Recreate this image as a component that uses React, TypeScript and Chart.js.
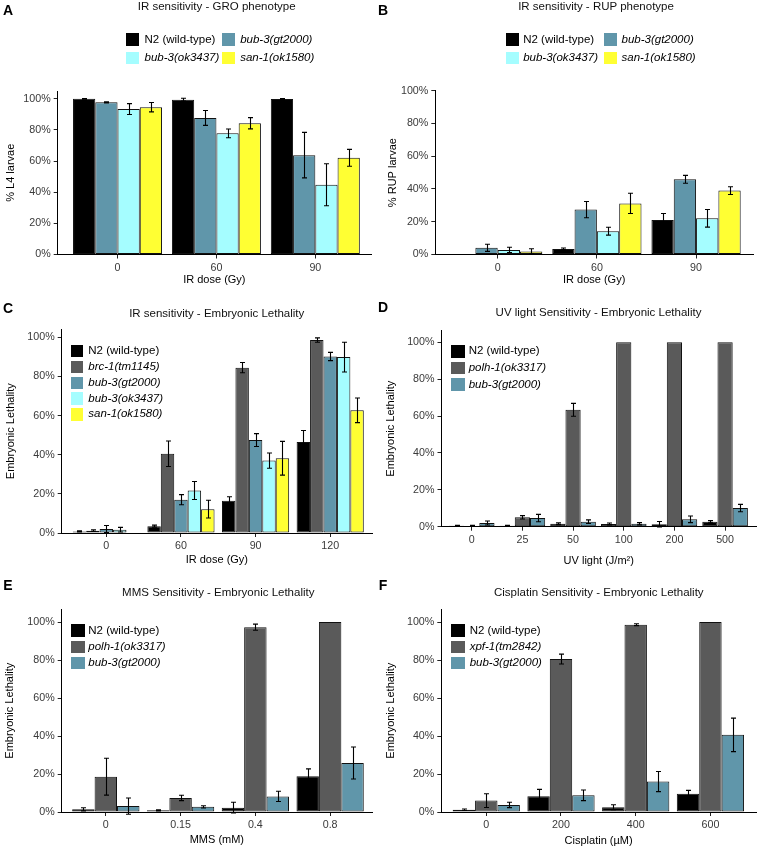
import React, { useEffect, useRef } from 'react';
import { Chart, registerables } from 'chart.js';
Chart.register(...registerables);

const FONT = "'Liberation Sans', Arial, Helvetica, sans-serif";

const COL_N2 = '#000000';
const COL_GRAY = '#5a5a5a';
const COL_STEEL = '#6096aa';
const COL_CYAN = '#a5fdff';
const COL_YELLOW = '#ffff33';

// ---------- Panel A: IR sensitivity - GRO ----------
const aCategories = ['0', '60', '90'];
const aN2 = [100, 99.4, 99.8];
const aN2Err = [0.2, 0.9, 0.3];
const aGt2000 = [97.7, 87.7, 63.8];
const aGt2000Err = [0.3, 4.8, 14.6];
const aOk3437 = [93.4, 77.8, 44.8];
const aOk3437Err = [3.5, 2.8, 13.5];
const aSan1 = [94.6, 84.3, 62.1];
const aSan1Err = [3.0, 3.6, 5.4];

// ---------- Panel B: IR sensitivity - RUP ----------
const bCategories = ['0', '60', '90'];
const bN2 = [0, 3.4, 21.0];
const bN2Err = [0, 0.6, 4.0];
const bGt2000 = [4.1, 27.4, 45.9];
const bGt2000Err = [2.2, 5.0, 2.4];
const bOk3437 = [2.8, 14.2, 22.1];
const bOk3437Err = [1.6, 2.4, 5.4];
const bSan1 = [1.9, 31.2, 39.0];
const bSan1Err = [1.6, 6.2, 2.4];

// ---------- Panel C: IR - Embryonic lethality ----------
const cCategories = ['0', '60', '90', '120'];
const cN2 = [0.8, 3.5, 16.5, 46.5];
const cN2Err = [0.3, 0.5, 2.0, 5.9];
const cBrc1 = [1.2, 40.5, 84.5, 98.6];
const cBrc1Err = [0.4, 6.5, 2.6, 1.1];
const cGt2000 = [2.0, 17.0, 47.5, 90.2];
const cGt2000Err = [1.8, 2.6, 3.3, 2.1];
const cOk3437 = [1.7, 21.7, 37.0, 89.9];
const cOk3437Err = [1.2, 4.6, 3.9, 7.6];
const cSan1 = [0.2, 12.2, 38.2, 62.7];
const cSan1Err = [0, 4.5, 8.6, 6.3];

// ---------- Panel D: UV light ----------
const dCategories = ['0', '25', '50', '100', '200', '500'];
const dN2 = [0.5, 0.5, 1.6, 1.5, 1.3, 2.7];
const dN2Err = [0.2, 0.2, 0.5, 0.5, 1.5, 0.6];
const dPolh1 = [0.4, 5.1, 63.4, 100, 100, 100];
const dPolh1Err = [0.3, 0.9, 3.5, 0, 0, 0];
const dGt2000 = [2.0, 4.7, 2.7, 1.6, 4.0, 10.1];
const dGt2000Err = [1.1, 2.0, 1.0, 0.6, 1.8, 2.0];

// ---------- Panel E: MMS ----------
const eCategories = ['0', '0.15', '0.4', '0.8'];
const eN2 = [1.4, 0.9, 2.3, 18.8];
const eN2Err = [0.8, 0.3, 2.8, 3.9];
const ePolh1 = [18.6, 7.4, 97.3, 100];
const ePolh1Err = [9.7, 1.4, 1.6, 0];
const eGt2000 = [3.1, 2.7, 8.2, 25.8];
const eGt2000Err = [4.3, 0.6, 2.7, 8.4];

// ---------- Panel F: Cisplatin ----------
const fCategories = ['0', '200', '400', '600'];
const fN2 = [1.2, 8.3, 2.5, 9.6];
const fN2Err = [0.4, 3.6, 1.3, 1.8];
const fXpf1 = [6.0, 80.5, 98.6, 100];
const fXpf1Err = [3.6, 2.6, 0.5, 0];
const fGt2000 = [3.7, 8.8, 16.0, 40.6];
const fGt2000Err = [1.4, 2.8, 5.3, 8.8];

const yTickValues = [0, 20, 40, 60, 80, 100];

type Series = { label: string; values: number[]; errors: number[]; color: string; italic: boolean };
type LegendSpec = { colXs: number[]; rowYs: number[]; box: [number, number]; textDx: number };
type PanelSpec = {
  letter: string; title: string; xTitle: string; yTitle: string;
  categories: string[]; series: Series[];
  cell: [number, number, number, number];
  area: [number, number, number, number];
  yTitleX: number; xTitleY: number;
  xRange: [number, number]; yMax: number;
  titlePos: [number, number]; letterPos: [number, number];
  legend: LegendSpec;
};

const s = (label: string, values: number[], errors: number[], color: string, italic: boolean): Series =>
  ({ label, values, errors, color, italic });

const pitchRows = (top: number, pitch: number, n: number) => Array.from({ length: n }, (_, i) => top + i * pitch);

const panels: PanelSpec[] = [
  {
    letter: 'A', title: 'IR sensitivity - GRO phenotype', xTitle: 'IR dose (Gy)', yTitle: '% L4 larvae',
    categories: aCategories,
    series: [
      s('N2 (wild-type)', aN2, aN2Err, COL_N2, false),
      s('bub-3(gt2000)', aGt2000, aGt2000Err, COL_STEEL, true),
      s('bub-3(ok3437)', aOk3437, aOk3437Err, COL_CYAN, true),
      s('san-1(ok1580)', aSan1, aSan1Err, COL_YELLOW, true),
    ],
    cell: [0, 0, 378, 288], area: [57.7, 91, 371, 254.5], yTitleX: 10.8, xTitleY: 280,
    xRange: [0.395, 3.563], yMax: 105,
    titlePos: [216.7, 6.8], letterPos: [8, 10],
    legend: { colXs: [126, 221.7], rowYs: [33.3, 51.7], box: [13.3, 12.5], textDx: 18.5 },
  },
  {
    letter: 'B', title: 'IR sensitivity - RUP phenotype', xTitle: 'IR dose (Gy)', yTitle: '% RUP larvae',
    categories: bCategories,
    series: [
      s('N2 (wild-type)', bN2, bN2Err, COL_N2, false),
      s('bub-3(gt2000)', bGt2000, bGt2000Err, COL_STEEL, true),
      s('bub-3(ok3437)', bOk3437, bOk3437Err, COL_CYAN, true),
      s('san-1(ok1580)', bSan1, bSan1Err, COL_YELLOW, true),
    ],
    cell: [378, 0, 379, 288], area: [435.3, 90.7, 753, 254.5], yTitleX: 393, xTitleY: 280,
    xRange: [0.371, 3.574], yMax: 100,
    titlePos: [596, 6.8], letterPos: [383, 10],
    legend: { colXs: [505.7, 604], rowYs: [33.3, 51.7], box: [13.3, 12.5], textDx: 17.5 },
  },
  {
    letter: 'C', title: 'IR sensitivity - Embryonic Lethality', xTitle: 'IR dose (Gy)', yTitle: 'Embryonic Lethality',
    categories: cCategories,
    series: [
      s('N2 (wild-type)', cN2, cN2Err, COL_N2, false),
      s('brc-1(tm1145)', cBrc1, cBrc1Err, COL_GRAY, true),
      s('bub-3(gt2000)', cGt2000, cGt2000Err, COL_STEEL, true),
      s('bub-3(ok3437)', cOk3437, cOk3437Err, COL_CYAN, true),
      s('san-1(ok1580)', cSan1, cSan1Err, COL_YELLOW, true),
    ],
    cell: [0, 288, 378, 278], area: [61.7, 329.3, 372, 533], yTitleX: 10.5, xTitleY: 560,
    xRange: [0.402, 4.56], yMax: 104.1,
    titlePos: [216.7, 313.5], letterPos: [8, 308],
    legend: { colXs: [70.7], rowYs: pitchRows(345, 15.8, 5), box: [12.7, 12.4], textDx: 17.6 },
  },
  {
    letter: 'D', title: 'UV light Sensitivity - Embryonic Lethality', xTitle: 'UV light (J/m\u00B2)', yTitle: 'Embryonic Lethality',
    categories: dCategories,
    series: [
      s('N2 (wild-type)', dN2, dN2Err, COL_N2, false),
      s('polh-1(ok3317)', dPolh1, dPolh1Err, COL_GRAY, true),
      s('bub-3(gt2000)', dGt2000, dGt2000Err, COL_STEEL, true),
    ],
    cell: [378, 288, 379, 278], area: [441.5, 330.7, 756, 526.7], yTitleX: 391.3, xTitleY: 560.5,
    xRange: [0.404, 6.61], yMax: 106.3,
    titlePos: [598.5, 313], letterPos: [383, 307],
    legend: { colXs: [451.3], rowYs: pitchRows(345, 16.6, 3), box: [14, 12.7], textDx: 17.4 },
  },
  {
    letter: 'E', title: 'MMS Sensitivity - Embryonic Lethality', xTitle: 'MMS (mM)', yTitle: 'Embryonic Lethality',
    categories: eCategories,
    series: [
      s('N2 (wild-type)', eN2, eN2Err, COL_N2, false),
      s('polh-1(ok3317)', ePolh1, ePolh1Err, COL_GRAY, true),
      s('bub-3(gt2000)', eGt2000, eGt2000Err, COL_STEEL, true),
    ],
    cell: [0, 566, 378, 281], area: [61.7, 609.3, 372, 812], yTitleX: 10, xTitleY: 840,
    xRange: [0.41, 4.56], yMax: 106.7,
    titlePos: [218.3, 593], letterPos: [8, 585],
    legend: { colXs: [70.7], rowYs: pitchRows(624.3, 16.2, 3), box: [14.3, 12.5], textDx: 17.6 },
  },
  {
    letter: 'F', title: 'Cisplatin Sensitivity - Embryonic Lethality', xTitle: 'Cisplatin (\u00B5M)', yTitle: 'Embryonic Lethality',
    categories: fCategories,
    series: [
      s('N2 (wild-type)', fN2, fN2Err, COL_N2, false),
      s('xpf-1(tm2842)', fXpf1, fXpf1Err, COL_GRAY, true),
      s('bub-3(gt2000)', fGt2000, fGt2000Err, COL_STEEL, true),
    ],
    cell: [378, 566, 379, 281], area: [441.3, 609.3, 756, 812], yTitleX: 391.3, xTitleY: 841,
    xRange: [0.398, 4.61], yMax: 106.7,
    titlePos: [598.8, 593], letterPos: [383, 585],
    legend: { colXs: [450.7], rowYs: pitchRows(624.3, 16.2, 3), box: [14.5, 12.5], textDx: 19 },
  },
];

const errorBarPlugin = {
  id: 'errorBars',
  afterDatasetsDraw(chart: any) {
    const ctx = chart.ctx;
    const yScale = chart.scales.y;
    chart.data.datasets.forEach((ds: any, i: number) => {
      const meta = chart.getDatasetMeta(i);
      if (!ds.errors) return;
      meta.data.forEach((el: any, j: number) => {
        const v = ds.data[j].y;
        const e = ds.errors[j];
        if (!e) return;
        const x = Math.round(el.x) + 0.5;
        const y1 = yScale.getPixelForValue(v + e);
        const y2 = yScale.getPixelForValue(v - e);
        const cap = 2.5;
        ctx.save();
        ctx.strokeStyle = '#000';
        ctx.lineWidth = 1.1;
        ctx.beginPath();
        ctx.moveTo(x, y1);
        ctx.lineTo(x, y2);
        ctx.moveTo(x - cap, y1);
        ctx.lineTo(x + cap, y1);
        ctx.moveTo(x - cap, y2);
        ctx.lineTo(x + cap, y2);
        ctx.stroke();
        ctx.restore();
      });
    });
  },
};

function Panel({ spec }: { spec: PanelSpec }) {
  const ref = useRef<HTMLCanvasElement>(null);
  useEffect(() => {
    const [cx, cy, cw, ch] = spec.cell;
    const [L, T, R, B] = spec.area;
    const half = 5.5;
    const padLeft = spec.yTitleX - half - cx;
    const yWidth = L - cx - padLeft;
    const padTop = T - cy;
    const padRight = cx + cw - R;
    const xHeight = spec.xTitleY + half - B;
    const padBottom = Math.max(0, cy + ch - (spec.xTitleY + half));
    const tickFont = { size: 10.7, family: FONT };
    const titleFont = { size: 11, family: FONT, lineHeight: 1 };
    const chart = new Chart(ref.current as HTMLCanvasElement, {
      type: 'bar',
      data: {
        datasets: spec.series.map((sr) => ({
          label: sr.label,
          data: sr.values.map((v, i) => ({ x: i + 1, y: v })),
          errors: sr.errors,
          backgroundColor: sr.color,
          borderColor: '#111111',
          borderWidth: 1,
          borderSkipped: false,
          barPercentage: 1,
          categoryPercentage: 0.9,
        })) as any,
      },
      options: {
        responsive: false,
        animation: false,
        devicePixelRatio: 1,
        layout: { padding: { left: padLeft, top: padTop, right: padRight, bottom: padBottom } },
        plugins: { legend: { display: false }, tooltip: { enabled: false }, title: { display: false } },
        scales: {
          x: {
            type: 'linear',
            min: spec.xRange[0],
            max: spec.xRange[1],
            offset: false,
            afterBuildTicks: (sc: any) => { sc.ticks = spec.categories.map((_, i) => ({ value: i + 1 })); },
            afterFit: (sc: any) => { sc.height = xHeight; },
            ticks: {
              callback: (v: any) => spec.categories[Math.round(Number(v)) - 1] ?? '',
              autoSkip: false, maxRotation: 0, minRotation: 0,
              color: '#3a3a3a', font: tickFont, padding: 3,
            },
            grid: { display: true, offset: false, drawOnChartArea: false, drawTicks: true, tickLength: 4, color: '#222', lineWidth: 1 },
            border: { display: true, color: '#000', width: 1 },
            title: { display: true, text: spec.xTitle, color: '#000', font: titleFont, padding: 0 },
          },
          y: {
            type: 'linear',
            min: 0,
            max: spec.yMax,
            afterBuildTicks: (sc: any) => { sc.ticks = yTickValues.map((v) => ({ value: v })); },
            afterFit: (sc: any) => { sc.width = yWidth; },
            ticks: { callback: (v: any) => v + '%', color: '#3a3a3a', font: tickFont, padding: 3 },
            grid: { display: true, offset: false, drawOnChartArea: false, drawTicks: true, tickLength: 4, color: '#222', lineWidth: 1 },
            border: { display: true, color: '#000', width: 1 },
            title: { display: true, text: spec.yTitle, color: '#000', font: titleFont, padding: 0 },
          },
        },
      } as any,
      plugins: [errorBarPlugin],
    });
    return () => chart.destroy();
  }, [spec]);

  const [cx, cy, cw, ch] = spec.cell;
  const lg = spec.legend;
  const ncol = lg.colXs.length;
  return (
    <>
      <canvas ref={ref} width={cw} height={ch}
        style={{ position: 'absolute', left: cx, top: cy, width: cw, height: ch }} />
      <div style={{
        position: 'absolute', left: spec.letterPos[0], top: spec.letterPos[1], transform: 'translate(-50%, -50%)',
        fontFamily: FONT, fontWeight: 'bold', fontSize: 14, lineHeight: 1, color: '#000',
      }}>{spec.letter}</div>
      <div style={{
        position: 'absolute', left: spec.titlePos[0], top: spec.titlePos[1], transform: 'translate(-50%, -50%)',
        fontFamily: FONT, fontSize: 11.5, lineHeight: 1, whiteSpace: 'nowrap', color: '#111',
      }}>{spec.title}</div>
      {spec.series.map((sr, k) => {
        const col = k % ncol;
        const row = Math.floor(k / ncol);
        const bx = lg.colXs[col];
        const by = lg.rowYs[row];
        return (
          <React.Fragment key={sr.label}>
            <div style={{
              position: 'absolute', left: bx, top: by, width: lg.box[0], height: lg.box[1], background: sr.color,
            }} />
            <div style={{
              position: 'absolute', left: bx + lg.textDx, top: by + lg.box[1] / 2, transform: 'translateY(-50%)',
              fontFamily: FONT, fontSize: 11.5, lineHeight: 1, whiteSpace: 'nowrap', color: '#000',
              fontStyle: sr.italic ? 'italic' : 'normal',
            }}>{sr.label}</div>
          </React.Fragment>
        );
      })}
    </>
  );
}

export default function App() {
  return (
    <div style={{ position: 'absolute', left: 0, top: 0, width: 757, height: 847, background: '#fff', overflow: 'hidden' }}>
      {panels.map((p) => <Panel key={p.letter} spec={p} />)}
    </div>
  );
}
